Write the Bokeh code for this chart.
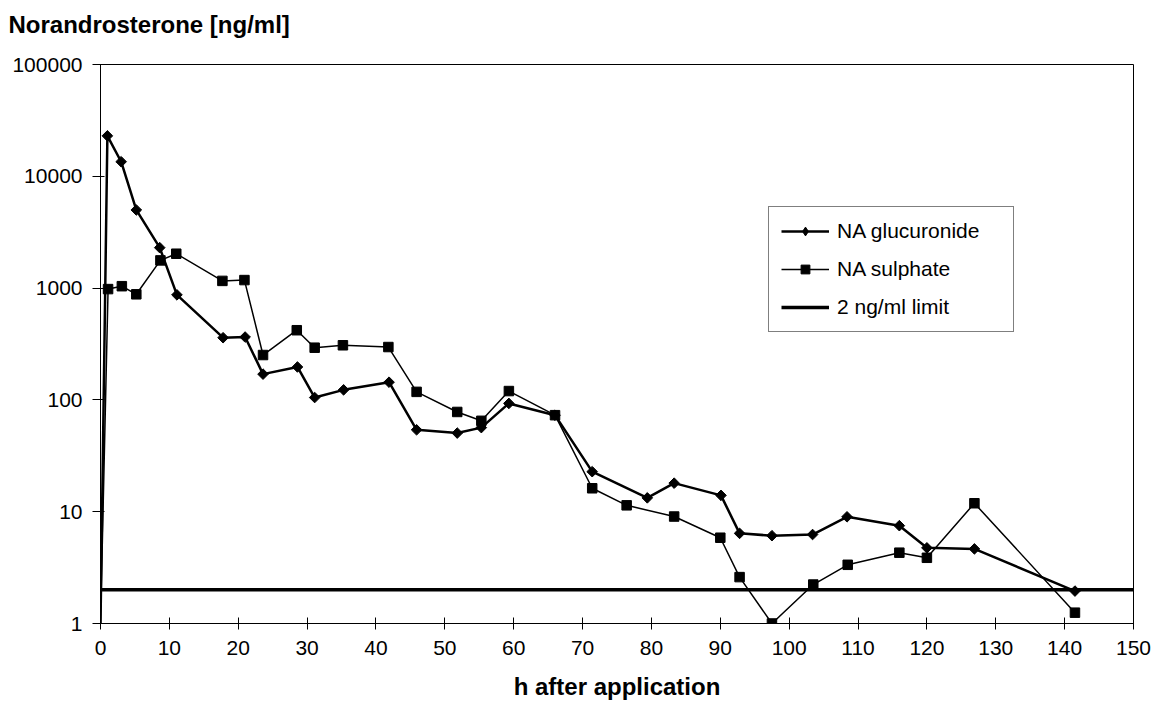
from math import pi
from bokeh.plotting import figure
from bokeh.layouts import column
from bokeh.models import Range1d, FixedTicker, Legend, LegendItem
from bokeh.embed import file_html
from bokeh.resources import INLINE

# ---- data ----
gluc_h = [0, 1.0, 3.0, 5.2, 8.6, 11.1, 17.8, 21.0, 23.6, 28.6, 31.1, 35.3, 41.9, 45.9,
          51.8, 55.3, 59.3, 66.0, 71.4, 79.4, 83.3, 90.1, 92.8, 97.5, 103.4, 108.4,
          116.0, 120.0, 126.9, 141.5]
gluc = [1, 23000, 13500, 5000, 2300, 870, 360, 365, 170, 197, 105, 123, 144, 54,
        50.5, 56.5, 93, 73, 22.8, 13.3, 18, 14, 6.4, 6.1, 6.25, 9.0, 7.5, 4.75,
        4.65, 1.95]

sulph_h = [0, 1.1, 3.1, 5.2, 8.7, 11.0, 17.7, 20.9, 23.6, 28.5, 31.1, 35.2, 41.8, 45.9,
           51.8, 55.3, 59.3, 66.0, 71.4, 76.4, 83.3, 90.0, 92.8, 97.5, 103.5, 108.5,
           116.0, 120.0, 126.9, 141.5]
sulph = [1, 980, 1040, 880, 1770, 2030, 1160, 1180, 252, 420, 293, 308, 297, 118,
         78, 65, 120, 73, 16.2, 11.4, 9.05, 5.85, 2.6, 1.0, 2.23, 3.35, 4.3, 3.87,
         11.9, 1.25]

limit_h = [0, 150]
limit = [2, 2]

x_ticks = [0, 10, 20, 30, 40, 50, 60, 70, 80, 90, 100, 110, 120, 130, 140, 150]
y_ticks = [1, 10, 100, 1000, 10000, 100000]
y_labels = ["1", "10", "100", "1000", "10000", "100000"]

title_text = "Norandrosterone [ng/ml]"

FONT = "Liberation Sans"

# ---- title strip (a small figure above the chart, carrying only the title) ----
head = figure(width=1160, height=50, output_backend="svg", toolbar_location=None,
              x_range=Range1d(0, 1), y_range=Range1d(0, 1),
              x_axis_location=None, y_axis_location=None,
              min_border_left=0, min_border_right=0, min_border_top=0,
              min_border_bottom=0, background_fill_color="white",
              border_fill_color="white", outline_line_color=None)
head.grid.visible = False
head.title.text = title_text
head.title.text_font = FONT
head.title.text_font_size = "24px"
head.title.text_font_style = "bold"
head.title.text_color = "black"
head.title.align = "left"
head.title.vertical_align = "bottom"
head.title.offset = -92
head.title.standoff = 16

# ---- main chart ----
p = figure(width=1160, height=659, output_backend="svg", toolbar_location=None,
           y_axis_type="log", x_range=Range1d(0, 150), y_range=Range1d(1, 100000),
           min_border_left=100, min_border_right=27, min_border_top=14,
           min_border_bottom=86, background_fill_color="white",
           border_fill_color="white")
p.title.visible = False

p.grid.visible = False
p.outline_line_color = "black"
p.outline_line_width = 1

for ax in (p.xaxis, p.yaxis):
    ax.axis_line_color = "black"
    ax.major_tick_line_color = "black"
    ax.minor_tick_line_color = None
    ax.major_label_text_font = FONT
    ax.major_label_text_font_size = "21px"
    ax.major_label_text_color = "black"

p.xaxis.ticker = FixedTicker(ticks=x_ticks)
p.xaxis.major_tick_out = 6
p.xaxis.major_tick_in = 6
p.xaxis.major_label_standoff = 11
p.xaxis.axis_label = "h after application"
p.xaxis.axis_label_text_font = FONT
p.xaxis.axis_label_text_font_size = "24px"
p.xaxis.axis_label_text_font_style = "bold"
p.xaxis.axis_label_text_color = "black"
p.xaxis.axis_label_standoff = 15

p.yaxis.ticker = FixedTicker(ticks=y_ticks)
p.yaxis.major_label_overrides = {t: l for t, l in zip(y_ticks, y_labels)}
p.yaxis.major_tick_out = 8
p.yaxis.major_tick_in = 4
p.yaxis.major_label_standoff = 10

lim = p.line(limit_h, limit, line_width=3.5, color="black")

su_line = p.line(sulph_h, sulph, line_width=1.5, color="black")
su_pts = p.scatter(sulph_h[1:], sulph[1:], marker="square", size=9.5, color="black")

gl_line = p.line(gluc_h, gluc, line_width=2.5, color="black")
gl_pts = p.scatter(gluc_h[1:], gluc[1:], marker="square", angle=pi / 4, size=7.5,
                   color="black")
# legend swatch for the diamond marker (placed outside the visible range)
gl_key = p.scatter(x=[-50], y=[1000], marker="diamond", size=15, color="black")

legend = Legend(items=[
    LegendItem(label="NA glucuronide", renderers=[gl_line, gl_key]),
    LegendItem(label="NA sulphate", renderers=[su_line, su_pts]),
    LegendItem(label="2 ng/ml limit", renderers=[lim]),
], location=(668, 291))
legend.border_line_color = "black"
legend.border_line_width = 1
legend.background_fill_color = "white"
legend.background_fill_alpha = 1
legend.label_text_font = FONT
legend.label_text_font_size = "21px"
legend.label_text_color = "black"
legend.glyph_width = 48
legend.glyph_height = 22
legend.label_height = 22
legend.label_width = 164
legend.spacing = 14
legend.padding = 12
legend.label_standoff = 8
legend.margin = 0
p.add_layout(legend)

page = column(head, p, spacing=0)
open("out.html", "w").write(file_html(page, INLINE))
